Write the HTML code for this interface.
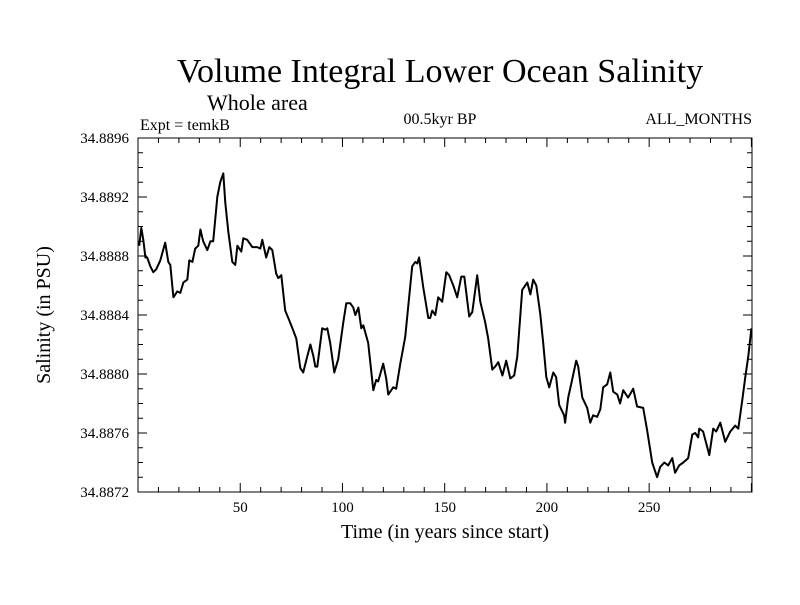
<!DOCTYPE html>
<html><head><meta charset="utf-8"><style>
body{margin:0;background:#fff}
svg text{font-family:"Liberation Serif",serif;fill:#000}
</style></head><body>
<svg id="chart" width="800" height="600" xmlns="http://www.w3.org/2000/svg">
<text x="440" y="82" font-size="34" text-anchor="middle">Volume Integral Lower Ocean Salinity</text>
<text x="207" y="110" font-size="22">Whole area</text>
<text x="140" y="130" font-size="16">Expt = temkB</text>
<text x="440" y="124" font-size="16" text-anchor="middle">00.5kyr BP</text>
<text x="752" y="124" font-size="16" text-anchor="end">ALL_MONTHS</text>
<text x="445" y="538" font-size="20" text-anchor="middle">Time (in years since start)</text>
<text x="0" y="0" font-size="20" text-anchor="middle" transform="translate(50,315) rotate(-90)">Salinity (in PSU)</text>
<g id="axes"></g>
</svg>
<script>
const years=[0.6,1.6,2.6,3.6,4.5,6.0,7.5,8.9,10.9,13.3,14.8,15.8,17.3,19.2,20.7,22.2,24.1,25.1,26.6,28.0,29.5,30.5,31.9,33.9,35.4,36.8,38.8,40.2,41.7,42.7,44.2,46.1,47.6,48.6,50.5,51.5,53.4,55.9,58.3,59.8,60.8,62.7,64.2,65.7,67.6,68.6,70.1,72.0,73.5,75.5,77.4,79.4,80.8,82.8,84.3,85.8,86.7,87.7,90.1,91.6,92.6,94.0,96.0,97.9,100.4,101.9,103.8,105.3,106.3,107.8,109.2,110.2,112.6,115.1,116.5,117.5,119.9,121.4,122.4,124.8,126.3,128.3,130.7,134.1,135.6,136.6,137.5,139.5,142.0,142.9,143.9,145.4,146.8,148.8,150.8,152.2,154.2,156.1,158.1,159.6,162.0,163.5,165.9,167.4,169.8,171.3,173.3,174.7,176.2,178.2,180.1,182.1,184.0,185.5,187.9,190.4,191.9,193.3,194.8,196.7,198.2,199.7,201.1,203.1,204.5,206.0,208.4,208.9,210.4,212.3,214.3,215.3,217.3,219.7,221.2,222.6,224.6,226.1,227.5,229.5,231.0,232.4,234.4,235.8,237.3,239.7,242.2,244.1,247.1,249.0,251.5,253.9,255.4,257.4,259.3,261.3,262.7,264.7,266.7,269.1,271.1,272.5,274.0,274.5,276.4,277.9,279.4,281.3,282.8,284.8,287.2,289.7,292.1,293.6,295.5,297.0,298.5,300.0];
const salinity=[34.88887,34.88899,34.88891,34.88879,34.88879,34.88873,34.88869,34.88871,34.88877,34.88889,34.88876,34.88874,34.88852,34.88856,34.88855,34.88862,34.88864,34.88877,34.88876,34.88885,34.88887,34.88898,34.88890,34.88884,34.88890,34.88890,34.88920,34.88930,34.88936,34.88916,34.88896,34.88876,34.88874,34.88887,34.88883,34.88892,34.88891,34.88886,34.88886,34.88885,34.88891,34.88879,34.88886,34.88884,34.88868,34.88865,34.88867,34.88843,34.88838,34.88831,34.88824,34.88804,34.88801,34.88812,34.88820,34.88812,34.88805,34.88805,34.88831,34.88830,34.88831,34.88821,34.88801,34.88810,34.88835,34.88848,34.88848,34.88845,34.88840,34.88845,34.88831,34.88833,34.88821,34.88789,34.88796,34.88795,34.88807,34.88797,34.88786,34.88791,34.88790,34.88807,34.88825,34.88873,34.88876,34.88875,34.88879,34.88859,34.88838,34.88838,34.88843,34.88840,34.88852,34.88849,34.88869,34.88867,34.88860,34.88852,34.88866,34.88866,34.88839,34.88842,34.88867,34.88849,34.88835,34.88824,34.88803,34.88805,34.88808,34.88799,34.88809,34.88797,34.88799,34.88812,34.88857,34.88862,34.88854,34.88864,34.88860,34.88841,34.88821,34.88798,34.88791,34.88801,34.88798,34.88779,34.88772,34.88767,34.88784,34.88796,34.88809,34.88805,34.88784,34.88777,34.88767,34.88772,34.88771,34.88776,34.88791,34.88793,34.88801,34.88788,34.88786,34.88780,34.88789,34.88784,34.88790,34.88778,34.88777,34.88762,34.88740,34.88730,34.88737,34.88740,34.88738,34.88743,34.88733,34.88738,34.88740,34.88743,34.88759,34.88760,34.88757,34.88763,34.88761,34.88753,34.88745,34.88763,34.88761,34.88767,34.88754,34.88761,34.88765,34.88763,34.88782,34.88798,34.88812,34.88831];
const xTickLabels=["50","100","150","200","250"];
const xTickValues=[50,100,150,200,250];
const yTickLabels=["34.8872","34.8876","34.8880","34.8884","34.8888","34.8892","34.8896"];
const yTickValues=[34.8872,34.8876,34.8880,34.8884,34.8888,34.8892,34.8896];

const L=138,R=752,T=138,B=492,X0=0,X1=300.3,Y0=34.8872,Y1=34.8896;
const sx=v=>L+(v-X0)/(X1-X0)*(R-L);
const sy=v=>B-(v-Y0)/(Y1-Y0)*(B-T);
const NS="http://www.w3.org/2000/svg";
const g=document.getElementById('axes');
function mk(tag,attrs){const e=document.createElementNS(NS,tag);for(const k in attrs)e.setAttribute(k,attrs[k]);g.appendChild(e);return e;}

const frame=mk('rect',{x:L,y:T,width:R-L,height:B-T,fill:'none',stroke:'#000','stroke-width':1});



// minor x ticks every 10 years
for(let v=10;v<X1;v+=10){
  const major=v%50===0, len=major?9:5, x=sx(v);
  const t1=mk('line',{x1:x,x2:x,y1:B,y2:B-len,stroke:'#000'});
  
  
  const t2=mk('line',{x1:x,x2:x,y1:T,y2:T+len,stroke:'#000'});
  
  
}
xTickValues.forEach((v,i)=>{
  const t=mk('text',{x:sx(v),y:B+20,'font-size':15,'text-anchor':'middle'});
  t.textContent=xTickLabels[i];
  
  
});
for(let k=1;k<24;k++){
  const v=Y0+k*0.0001, major=k%4===0, len=major?9:5, y=sy(v);
  const t1=mk('line',{x1:L,x2:L+len,y1:y,y2:y,stroke:'#000'});
  
  
  const t2=mk('line',{x1:R,x2:R-len,y1:y,y2:y,stroke:'#000'});
  
  
}
yTickValues.forEach((v,i)=>{
  const t=mk('text',{x:L-9,y:sy(v)+5,'font-size':15,'text-anchor':'end'});
  t.textContent=yTickLabels[i];
  
  
});
const d=years.map((yr,i)=>(i?'L':'M')+sx(yr).toFixed(1)+','+sy(salinity[i]).toFixed(1)).join(' ');
const line=mk('path',{d:d,fill:'none',stroke:'#000','stroke-width':2,'stroke-linejoin':'round'});


</script>
</body></html>
